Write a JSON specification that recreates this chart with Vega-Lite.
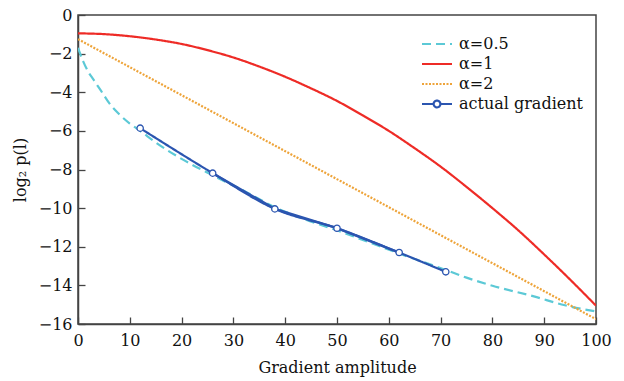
{
  "$schema": "https://vega.github.io/schema/vega-lite/v6.json",
  "width": 518,
  "height": 309,
  "autosize": {"type": "none"},
  "padding": {"left": 78, "top": 15, "right": 28, "bottom": 57},
  "background": "white",
  "config": {
    "view": {"stroke": "#444", "strokeWidth": 1.5},
    "font": "DejaVu Serif",
    "axis": {
      "grid": false,
      "labelFlush": false,
      "domainColor": "#444",
      "domainWidth": 1.5,
      "tickColor": "#444",
      "tickWidth": 1.3,
      "tickSize": -7,
      "labelFont": "DejaVu Serif",
      "labelFontSize": 16,
      "labelColor": "#111",
      "titleFont": "DejaVu Serif",
      "titleFontSize": 16,
      "titleFontWeight": "normal",
      "titleColor": "#111"
    }
  },
  "datasets": {
    "curves": [
      {"x": 0, "y": -1.7, "series": "α=0.5"},
      {"x": 1, "y": -2.4, "series": "α=0.5"},
      {"x": 2, "y": -2.95, "series": "α=0.5"},
      {"x": 3, "y": -3.35, "series": "α=0.5"},
      {"x": 4, "y": -3.75, "series": "α=0.5"},
      {"x": 5, "y": -4.15, "series": "α=0.5"},
      {"x": 6, "y": -4.55, "series": "α=0.5"},
      {"x": 8, "y": -5.15, "series": "α=0.5"},
      {"x": 10, "y": -5.62, "series": "α=0.5"},
      {"x": 12, "y": -6.0, "series": "α=0.5"},
      {"x": 15, "y": -6.6, "series": "α=0.5"},
      {"x": 20, "y": -7.45, "series": "α=0.5"},
      {"x": 26, "y": -8.3, "series": "α=0.5"},
      {"x": 32, "y": -9.1, "series": "α=0.5"},
      {"x": 38, "y": -9.95, "series": "α=0.5"},
      {"x": 44, "y": -10.6, "series": "α=0.5"},
      {"x": 50, "y": -11.15, "series": "α=0.5"},
      {"x": 56, "y": -11.75, "series": "α=0.5"},
      {"x": 62, "y": -12.35, "series": "α=0.5"},
      {"x": 71, "y": -13.2, "series": "α=0.5"},
      {"x": 75, "y": -13.6, "series": "α=0.5"},
      {"x": 80, "y": -14.02, "series": "α=0.5"},
      {"x": 88, "y": -14.57, "series": "α=0.5"},
      {"x": 94, "y": -15.03, "series": "α=0.5"},
      {"x": 100, "y": -15.35, "series": "α=0.5"},
      {"x": 0, "y": -0.95, "series": "α=1"},
      {"x": 5, "y": -0.99, "series": "α=1"},
      {"x": 10, "y": -1.1, "series": "α=1"},
      {"x": 15, "y": -1.27, "series": "α=1"},
      {"x": 20, "y": -1.5, "series": "α=1"},
      {"x": 25, "y": -1.82, "series": "α=1"},
      {"x": 30, "y": -2.2, "series": "α=1"},
      {"x": 35, "y": -2.67, "series": "α=1"},
      {"x": 40, "y": -3.2, "series": "α=1"},
      {"x": 45, "y": -3.8, "series": "α=1"},
      {"x": 50, "y": -4.45, "series": "α=1"},
      {"x": 55, "y": -5.2, "series": "α=1"},
      {"x": 60, "y": -6.0, "series": "α=1"},
      {"x": 65, "y": -6.9, "series": "α=1"},
      {"x": 70, "y": -7.85, "series": "α=1"},
      {"x": 75, "y": -8.9, "series": "α=1"},
      {"x": 80, "y": -10.0, "series": "α=1"},
      {"x": 85, "y": -11.15, "series": "α=1"},
      {"x": 90, "y": -12.4, "series": "α=1"},
      {"x": 95, "y": -13.7, "series": "α=1"},
      {"x": 100, "y": -15.05, "series": "α=1"},
      {"x": 0, "y": -1.25, "series": "α=2"},
      {"x": 50, "y": -8.5, "series": "α=2"},
      {"x": 100, "y": -15.75, "series": "α=2"},
      {"x": 12, "y": -5.86, "series": "actual gradient"},
      {"x": 26, "y": -8.19, "series": "actual gradient"},
      {"x": 38, "y": -10.04, "series": "actual gradient"},
      {"x": 50, "y": -11.04, "series": "actual gradient"},
      {"x": 62, "y": -12.3, "series": "actual gradient"},
      {"x": 71, "y": -13.3, "series": "actual gradient"}
    ]
  },
  "data": {"name": "curves"},
  "encoding": {
    "x": {
      "field": "x", "type": "quantitative",
      "scale": {"domain": [0, 100], "nice": false},
      "axis": {"values": [0,10,20,30,40,50,60,70,80,90,100], "title": "Gradient amplitude", "labelPadding": 15, "titlePadding": 11}
    },
    "y": {
      "field": "y", "type": "quantitative",
      "scale": {"domain": [-16, 0], "nice": false},
      "axis": {"values": [-16,-14,-12,-10,-8,-6,-4,-2,0], "title": "log₂ p(l)", "labelPadding": 13, "titlePadding": 10}
    }
  },
  "layer": [
    {
      "mark": {"type": "line", "clip": true, "interpolate": "monotone"},
      "encoding": {
        "color": {
          "field": "series", "type": "nominal",
          "scale": {"domain": ["α=0.5", "α=1", "α=2", "actual gradient"], "range": ["#5CC9D6", "#EE2B26", "#EEA43A", "#2B55B0"]},
          "legend": {
            "orient": "none", "legendX": 350, "legendY": 20, "title": null,
            "symbolType": "M-2,0H2", "symbolSize": 225, "symbolStrokeWidth": 1.5,
            "labelFont": "DejaVu Serif", "labelFontSize": 16, "labelColor": "#111", "labelOffset": 13, "rowPadding": 3,
            "encode": {"symbols": {"update": {
              "shape": {"signal": "datum.value === 'actual gradient' ? 'M-2,0H-0.45M0.45,0H2M-0.45,0A0.45,0.45 0 1,0 0.45,0A0.45,0.45 0 1,0 -0.45,0' : 'M-2,0H2'"},
              "fill": {"signal": "datum.value === 'actual gradient' ? 'white' : 'transparent'"},
              "strokeWidth": {"value": 1.5}
            }}}
          }
        },
        "strokeDash": {
          "field": "series", "type": "nominal",
          "scale": {"domain": ["α=0.5", "α=1", "α=2", "actual gradient"], "range": [[9, 5], [1, 0], [2, 1.5], [1, 0]]},
          "legend": {
            "orient": "none", "legendX": 350, "legendY": 20, "title": null,
            "symbolType": "M-2,0H2", "symbolSize": 225, "symbolStrokeWidth": 1.5,
            "labelFont": "DejaVu Serif", "labelFontSize": 16, "labelColor": "#111", "labelOffset": 13, "rowPadding": 3
          }
        },
        "strokeWidth": {
          "field": "series", "type": "nominal",
          "scale": {"domain": ["α=0.5", "α=1", "α=2", "actual gradient"], "range": [2.2, 2.2, 2.2, 1.2]},
          "legend": null
        }
      }
    },
    {
      "transform": [{"filter": "datum.series === 'actual gradient' && datum.x >= 26 && datum.x <= 62"}],
      "mark": {"type": "line", "color": "#2B55B0", "strokeWidth": 2.4}
    },
    {
      "transform": [{"filter": "datum.series === 'actual gradient'"}],
      "mark": {"type": "point", "shape": "circle", "filled": true, "fill": "white", "stroke": "#2B55B0", "strokeWidth": 1.3, "size": 40, "opacity": 1}
    }
  ]
}
